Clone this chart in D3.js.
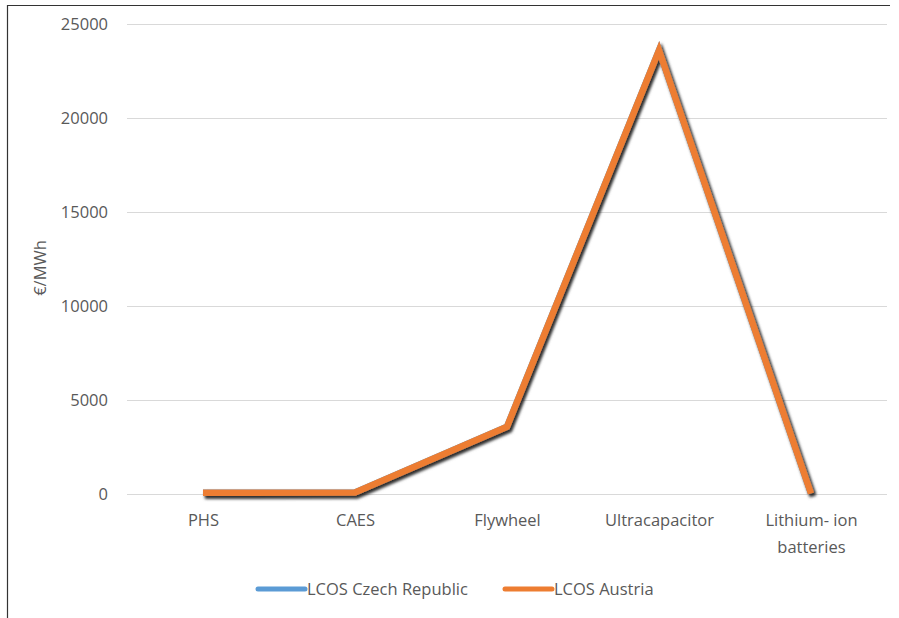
<!DOCTYPE html>
<html><head><meta charset="utf-8">
<script src="https://cdn.jsdelivr.net/npm/d3@7"></script>
<style>body{margin:0;background:#fff}svg{display:block}</style>
</head><body>
<svg id="c" width="899" height="618"></svg>
<script>
const categories = ["PHS","CAES","Flywheel","Ultracapacitor","Lithium- ion batteries"];
const czech = [60, 80, 3580, 23600, 30];
const austria = [60, 80, 3580, 23600, 30];
const yTicks = [0,5000,10000,15000,20000,25000];
const seriesNames = ["LCOS Czech Republic","LCOS Austria"];
const colors = ["#5b9bd5","#ed7d31"];

const FONT = "'Open Sans', sans-serif";
const FS = "16.5px";
const svg = d3.select("#c");
const defs = svg.append("defs");
const f = defs.append("filter").attr("id","sh").attr("x","-10%").attr("y","-10%").attr("width","130%").attr("height","130%");
f.append("feDropShadow").attr("dx",2).attr("dy",2.5).attr("stdDeviation",1.5).attr("flood-color","#000").attr("flood-opacity",0.6);

// outer frame (top and left visible)
svg.append("line").attr("x1",7).attr("x2",890).attr("y1",5.5).attr("y2",5.5).attr("stroke","#333").attr("stroke-width",1.2);
svg.append("line").attr("x1",7.5).attr("x2",7.5).attr("y1",5).attr("y2",618).attr("stroke","#333").attr("stroke-width",1.2);

const L=127, R=887;
const x = d3.scalePoint().domain(categories).range([L,R]).padding(0.5);
const y = d3.scaleLinear().domain([0,25000]).range([494,24]);

const gy = svg.append("g").attr("transform",`translate(${L},0)`)
  .call(d3.axisLeft(y).tickValues(yTicks).tickSize(-(R-L)).tickPadding(19).tickFormat(d3.format("d")));
gy.select(".domain").remove();
gy.selectAll(".tick line").attr("stroke","#d9d9d9").attr("stroke-width",1);
gy.selectAll(".tick text").attr("fill","#595959").attr("font-family",FONT).attr("font-size",FS);

const gx = svg.append("g").attr("transform","translate(0,494)")
  .call(d3.axisBottom(x).tickSize(0).tickPadding(20));
gx.select(".domain").remove();
gx.selectAll(".tick text").attr("fill","#595959").attr("font-family",FONT).attr("font-size",FS)
  .each(function(d){
    const t=d3.select(this); const parts=d.split(" batteries");
    if(parts.length>1){ t.text(null);
      t.append("tspan").attr("x",0).attr("dy","0.71em").text("Lithium- ion");
      t.append("tspan").attr("x",0).attr("dy","1.65em").text("batteries");
      t.attr("dy",null);
    }
  });

svg.append("text").attr("transform","translate(46,268) rotate(-90)").attr("text-anchor","middle")
  .attr("fill","#595959").attr("font-family",FONT).attr("font-size",FS).text("€/MWh");

const line = d3.line().x((d,i)=>x(categories[i])).y(d=>y(d));
[czech, austria].forEach((s,k)=>{
  svg.append("path").datum(s).attr("d",line).attr("fill","none").attr("stroke",colors[k])
    .attr("stroke-width",6.5).attr("stroke-linejoin","miter").attr("filter","url(#sh)");
});

// legend
const leg = [{x:258,tx:307},{x:505,tx:554}];
seriesNames.forEach((n,k)=>{
  svg.append("line").attr("x1",leg[k].x).attr("x2",leg[k].x+47).attr("y1",589).attr("y2",589)
    .attr("stroke",colors[k]).attr("stroke-width",5).attr("stroke-linecap","round");
  svg.append("text").attr("x",leg[k].tx).attr("y",589).attr("dy","0.35em").attr("fill","#595959")
    .attr("font-family",FONT).attr("font-size",FS).text(n);
});
</script>
</body></html>
